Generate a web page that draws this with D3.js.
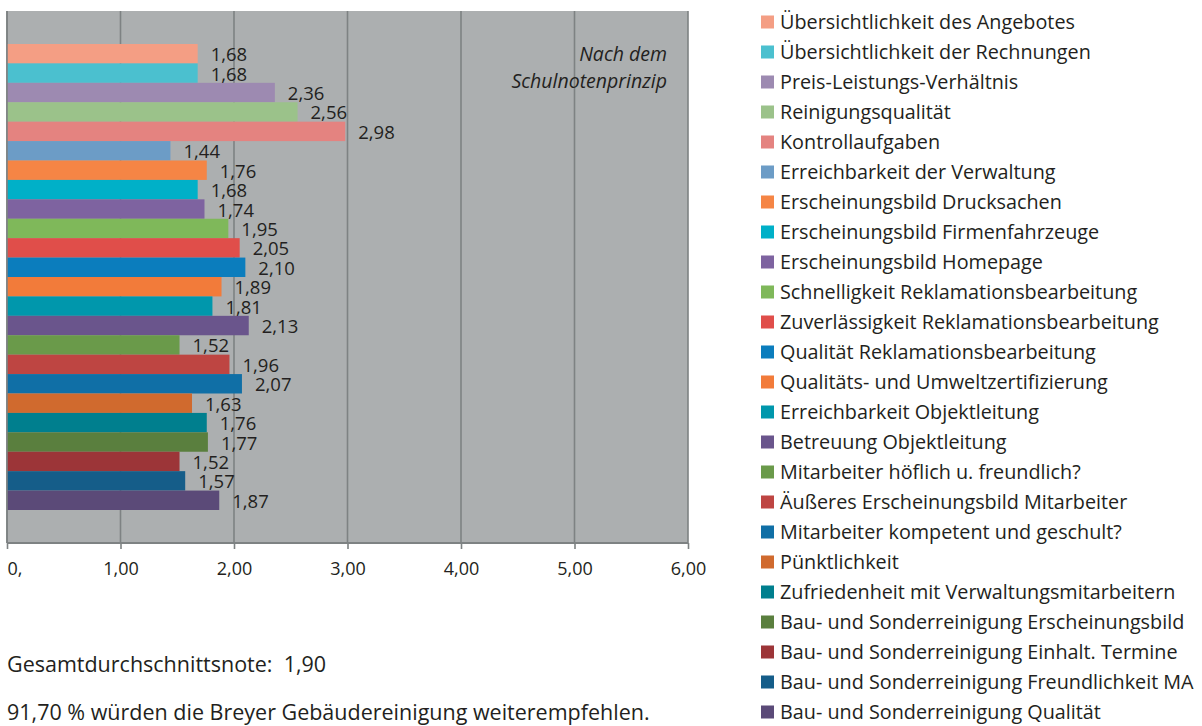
<!DOCTYPE html>
<html>
<head>
<meta charset="utf-8">
<script src="https://cdn.jsdelivr.net/npm/d3@7"></script>
<style>
  body { margin: 0; background: #ffffff; }
  svg { display: block; font-family: "Open Sans", "Noto Sans", sans-serif; }
</style>
</head>
<body>
<div id="chart"></div>
<script>
// Kundenzufriedenheit – Schulnoten je Kriterium
const categories = [
  "Übersichtlichkeit des Angebotes",
  "Übersichtlichkeit der Rechnungen",
  "Preis-Leistungs-Verhältnis",
  "Reinigungsqualität",
  "Kontrollaufgaben",
  "Erreichbarkeit der Verwaltung",
  "Erscheinungsbild Drucksachen",
  "Erscheinungsbild Firmenfahrzeuge",
  "Erscheinungsbild Homepage",
  "Schnelligkeit Reklamationsbearbeitung",
  "Zuverlässigkeit Reklamationsbearbeitung",
  "Qualität Reklamationsbearbeitung",
  "Qualitäts- und Umweltzertifizierung",
  "Erreichbarkeit Objektleitung",
  "Betreuung Objektleitung",
  "Mitarbeiter höflich u. freundlich?",
  "Äußeres Erscheinungsbild Mitarbeiter",
  "Mitarbeiter kompetent und geschult?",
  "Pünktlichkeit",
  "Zufriedenheit mit Verwaltungsmitarbeitern",
  "Bau- und Sonderreinigung Erscheinungsbild",
  "Bau- und Sonderreinigung Einhalt. Termine",
  "Bau- und Sonderreinigung Freundlichkeit MA",
  "Bau- und Sonderreinigung Qualität"
];
const values = [1.68, 1.68, 2.36, 2.56, 2.98, 1.44, 1.76, 1.68, 1.74, 1.95, 2.05, 2.10,
                1.89, 1.81, 2.13, 1.52, 1.96, 2.07, 1.63, 1.76, 1.77, 1.52, 1.57, 1.87];
const colors = ["#f49e84", "#4bc0cf", "#9d8ab1", "#9bc28a", "#e48380", "#6c9cc6",
                "#f58545", "#00b0c8", "#7e63a0", "#7fb85a", "#e04e4a", "#0b7dbd",
                "#f27b3a", "#0097ac", "#6a558c", "#6a9a4a", "#be4542", "#106fa6",
                "#d06a2e", "#007f8e", "#5a7f3e", "#9c3538", "#155d89", "#5b4a78"];
const xTicks = [0, 1, 2, 3, 4, 5, 6];
const xTickLabels = ["0,", "1,00", "2,00", "3,00", "4,00", "5,00", "6,00"];
const note = ["Nach dem", "Schulnotenprinzip"];
const footer = ["Gesamtdurchschnittsnote:  1,90",
                "91,70 % würden die Breyer Gebäudereinigung weiterempfehlen."];

const W = 1202, H = 726;
const plot = { left: 7, right: 688, top: 11, bottom: 543 };
const textColor = "#231f20";
const gridColor = "#7e8283";

const svg = d3.select("#chart").append("svg")
    .attr("width", W)
    .attr("height", H);

const x = d3.scaleLinear().domain([0, 6]).range([plot.left, plot.right]);
const y = d3.scaleBand()
    .domain(categories)
    .range([plot.top, plot.bottom])
    .paddingInner(0)
    .paddingOuter(1.7);

// plot background
svg.append("rect")
    .attr("x", plot.left)
    .attr("y", plot.top)
    .attr("width", plot.right - plot.left)
    .attr("height", plot.bottom - plot.top)
    .attr("fill", "#acafb0");

// vertical gridlines
svg.append("g")
    .selectAll("line")
    .data(xTicks)
    .enter().append("line")
    .attr("x1", d => x(d))
    .attr("x2", d => x(d))
    .attr("y1", plot.top)
    .attr("y2", plot.bottom)
    .attr("stroke", gridColor)
    .attr("stroke-width", 1.6);

// bars
svg.append("g")
    .selectAll("rect")
    .data(categories)
    .enter().append("rect")
    .attr("x", x(0))
    .attr("y", d => y(d))
    .attr("width", (d, i) => x(values[i]) - x(0))
    .attr("height", y.bandwidth())
    .attr("fill", (d, i) => colors[i]);

// value labels
svg.append("g")
    .selectAll("text")
    .data(categories)
    .enter().append("text")
    .attr("x", (d, i) => x(values[i]) + 13)
    .attr("y", d => y(d) + y.bandwidth() / 2 + 7.5)
    .attr("font-size", 18.5)
    .attr("fill", textColor)
    .text((d, i) => values[i].toFixed(2).replace(".", ","));

// bottom axis
const xAxis = d3.axisBottom(x)
    .tickValues(xTicks)
    .tickSize(6)
    .tickPadding(13)
    .tickFormat((d, i) => xTickLabels[i]);

const axisG = svg.append("g")
    .attr("transform", `translate(0,${plot.bottom})`)
    .call(xAxis);
axisG.select(".domain")
    .attr("stroke", gridColor)
    .attr("stroke-width", 2.2)
    .attr("d", `M${plot.left},0H${plot.right}`);
axisG.selectAll(".tick line")
    .attr("stroke", gridColor)
    .attr("stroke-width", 1.6);
axisG.selectAll(".tick text")
    .attr("font-size", 18)
    .attr("fill", textColor)
    .attr("font-family", "'Open Sans', sans-serif");
axisG.selectAll(".tick text").filter((d, i) => i === 0)
    .attr("text-anchor", "start");

// left axis line
svg.append("line")
    .attr("x1", plot.left).attr("x2", plot.left)
    .attr("y1", plot.top).attr("y2", plot.bottom)
    .attr("stroke", gridColor)
    .attr("stroke-width", 1.6);

// note inside the plot
svg.append("g")
    .selectAll("text")
    .data(note)
    .enter().append("text")
    .attr("x", 667)
    .attr("y", (d, i) => 61 + i * 27)
    .attr("text-anchor", "end")
    .attr("font-style", "italic")
    .attr("font-size", 19.5)
    .attr("fill", textColor)
    .text(d => d);

// legend
const legend = svg.append("g")
    .selectAll("g")
    .data(categories)
    .enter().append("g")
    .attr("transform", (d, i) => `translate(761,${22 + i * 30})`);
legend.append("rect")
    .attr("x", 0)
    .attr("y", -6.5)
    .attr("width", 13)
    .attr("height", 13)
    .attr("fill", (d, i) => colors[i]);
legend.append("text")
    .attr("x", 19)
    .attr("y", 7)
    .attr("font-size", 19.8)
    .attr("fill", textColor)
    .text(d => d);

// footer
svg.append("g")
    .selectAll("text")
    .data(footer)
    .enter().append("text")
    .attr("x", 7)
    .attr("y", (d, i) => 672 + i * 48)
    .attr("font-size", 21.5)
    .attr("fill", textColor)
    .style("white-space", "pre")
    .text(d => d);
</script>
</body>
</html>
